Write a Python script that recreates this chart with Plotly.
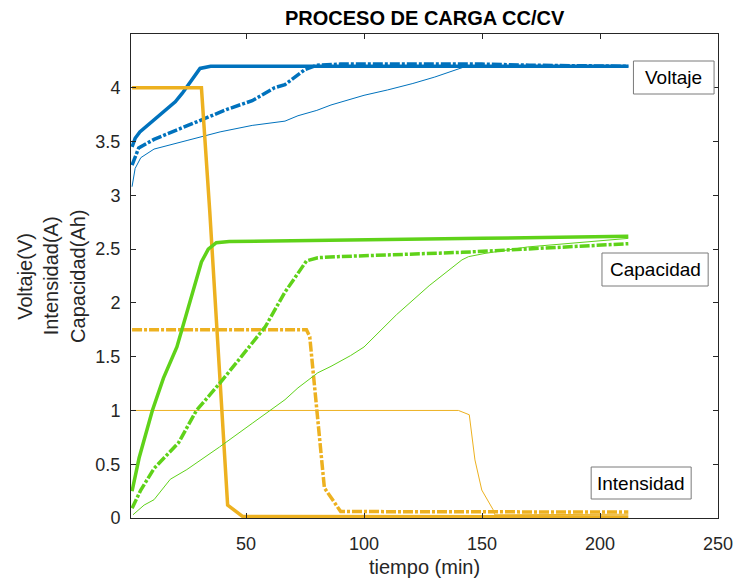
import plotly.graph_objects as go

# ---- data (time in minutes) ----
t_v1 = [1.7, 3, 5, 10, 15, 20, 23, 26.5, 30.5, 35, 60, 100, 150, 212]
v1 = [3.45, 3.53, 3.59, 3.68, 3.78, 3.87, 3.95, 4.06, 4.18, 4.2, 4.2, 4.2, 4.2, 4.2]

t_v2 = [1.7, 4.5, 11, 20, 32, 42, 52.6, 62, 66.5, 71, 75, 80, 90, 120, 150, 170, 212]
v2 = [3.28, 3.44, 3.52, 3.6, 3.71, 3.8, 3.88, 4.0, 4.03, 4.1, 4.17, 4.21, 4.22, 4.22, 4.22, 4.21, 4.2]

t_v3 = [1.7, 3, 5.4, 11, 25, 39, 52.6, 66.5, 72, 80, 86, 100, 110, 120.7, 130, 138.7, 142, 150, 212]
v3 = [3.08, 3.25, 3.35, 3.43, 3.51, 3.59, 3.65, 3.69, 3.74, 3.79, 3.84, 3.93, 3.98, 4.04, 4.1, 4.16, 4.19, 4.2, 4.2]

t_c1 = [1.7, 4.7, 10.3, 15, 20.7, 26.25, 31.1, 34, 37.4, 42.9, 100, 150, 212]
c1 = [0.25, 0.56, 1.0, 1.3, 1.59, 2.02, 2.38, 2.5, 2.56, 2.57, 2.59, 2.60, 2.62]

t_c2 = [1.7, 5.4, 11, 21.4, 29, 38.75, 48, 58.2, 66.5, 75.6, 80.4, 88.75, 141.5, 212]
c2 = [0.09, 0.26, 0.46, 0.70, 1.0, 1.25, 1.5, 1.78, 2.10, 2.39, 2.42, 2.43, 2.47, 2.55]

t_c3 = [2.1, 6.8, 11, 17.9, 24.9, 38.75, 52.6, 66.5, 72, 80.4, 86, 94.3, 100, 113.75, 127.6,
        141.5, 144.3, 151.25, 169.3, 197, 212]
c3 = [0.03, 0.12, 0.17, 0.36, 0.45, 0.66, 0.88, 1.10, 1.21, 1.35, 1.41, 1.51, 1.59, 1.89, 2.16,
      2.40, 2.43, 2.46, 2.52, 2.575, 2.6]

t_i1 = [1.7, 31.1, 34.6, 40.1, 42.2, 48.5, 212]
i1 = [4.0, 4.0, 2.86, 0.83, 0.12, 0.015, 0.01]

t_i2 = [1.7, 75.6, 77, 83.2, 90.1, 212]
i2 = [1.75, 1.75, 1.685, 0.28, 0.06, 0.055]

t_i3 = [1.7, 140, 144.6, 145.7, 147, 149.9, 154.7, 155.4, 212]
i3 = [1.0, 1.0, 0.96, 0.79, 0.54, 0.26, 0.077, 0.03, 0.035]

x_ticks = [50, 100, 150, 200, 250]
y_ticks = [0, 0.5, 1, 1.5, 2, 2.5, 3, 3.5, 4]
y_tick_text = ["0", "0.5", "1", "1.5", "2", "2.5", "3", "3.5", "4"]

BLUE = "#0072BD"
GREEN = "#5FD219"
ORANGE = "#EDB120"
THICK = 3.5
THIN = 1.0
DASHDOT = "10px,2px,3px,2px"
FONT = "Liberation Sans, Arial, Helvetica, sans-serif"

fig = go.Figure()

def add(t, y, color, width, dash="solid"):
    fig.add_trace(go.Scatter(x=t, y=y, mode="lines",
                             line=dict(color=color, width=width, dash=dash),
                             showlegend=False, hoverinfo="skip"))

add(t_v1, v1, BLUE, THICK)
add(t_v2, v2, BLUE, THICK, DASHDOT)
add(t_v3, v3, BLUE, THIN)
add(t_i1, i1, ORANGE, THICK)
add(t_i2, i2, ORANGE, THICK, DASHDOT)
add(t_i3, i3, ORANGE, THIN)
add(t_c1, c1, GREEN, THICK)
add(t_c2, c2, GREEN, THICK, DASHDOT)
add(t_c3, c3, GREEN, THIN)

L, R, T, B = 131, 728, 34, 518
W, H = 745, 581
pw, ph = R - L, B - T

def px2paper(px, py):
    return (px - L) / pw, (B - py) / ph

axis_common = dict(showline=True, linecolor="#262626", linewidth=1, mirror="ticks",
                   ticks="inside", ticklen=5, tickcolor="#262626", tickwidth=1,
                   showgrid=False, zeroline=False,
                   tickfont=dict(family=FONT, size=18, color="#262626"))

fig.update_xaxes(range=[1.25, 250], tickvals=x_ticks, ticktext=[str(v) for v in x_ticks],
                 ticklabelstandoff=9, **axis_common)
fig.update_yaxes(range=[0, 4.5], tickvals=y_ticks, ticktext=y_tick_text,
                 ticklabelstandoff=6, **axis_common)

shapes = []
annotations = []

boxes = [
    ("Voltaje", 642, 724, 61, 94),
    ("Capacidad", 610, 718, 253, 286),
    ("Intensidad", 599, 700.7, 467, 499),
]
for text, x0, x1, y0, y1 in boxes:
    px0, py1 = px2paper(x0, y0)
    px1, py0 = px2paper(x1, y1)
    shapes.append(dict(type="rect", xref="paper", yref="paper", x0=px0, x1=px1, y0=py0, y1=py1,
                       line=dict(color="#7a7a7a", width=1), fillcolor="white", layer="above"))
    cx, cy = px2paper((x0 + x1) / 2, (y0 + y1) / 2)
    annotations.append(dict(text=text, xref="paper", yref="paper", x=cx, y=cy,
                            xanchor="center", yanchor="middle", showarrow=False,
                            font=dict(family=FONT, size=19, color="#000000")))

# title
tx, ty = px2paper((L + R) / 2, 18)
annotations.append(dict(text="<b>PROCESO DE CARGA CC/CV</b>", xref="paper", yref="paper",
                        x=tx, y=ty, xanchor="center", yanchor="middle", showarrow=False,
                        font=dict(family=FONT, size=20, color="#000000")))
# x label
lx, ly = px2paper((L + R) / 2, 567)
annotations.append(dict(text="tiempo (min)", xref="paper", yref="paper", x=lx, y=ly,
                        xanchor="center", yanchor="middle", showarrow=False,
                        font=dict(family=FONT, size=20, color="#262626")))
# y labels (three lines)
for txt, xpx in [("Voltaje(V)", 23), ("Intensidad(A)", 50), ("Capacidad(Ah)", 77)]:
    ax, ay = px2paper(xpx, 276)
    annotations.append(dict(text=txt, xref="paper", yref="paper", x=ax, y=ay,
                            xanchor="center", yanchor="middle", textangle=-90, showarrow=False,
                            font=dict(family=FONT, size=20, color="#262626")))

fig.update_layout(width=W, height=H,
                  margin=dict(l=L, r=W - R, t=T, b=H - B),
                  paper_bgcolor="white", plot_bgcolor="white",
                  shapes=shapes, annotations=annotations)

# remove the browser's default 8px page margin so the figure sits at the window origin
fig.write_html("out.html", config={"displayModeBar": False},
               post_script="document.body.style.margin='0px';document.body.style.overflow='hidden';")
